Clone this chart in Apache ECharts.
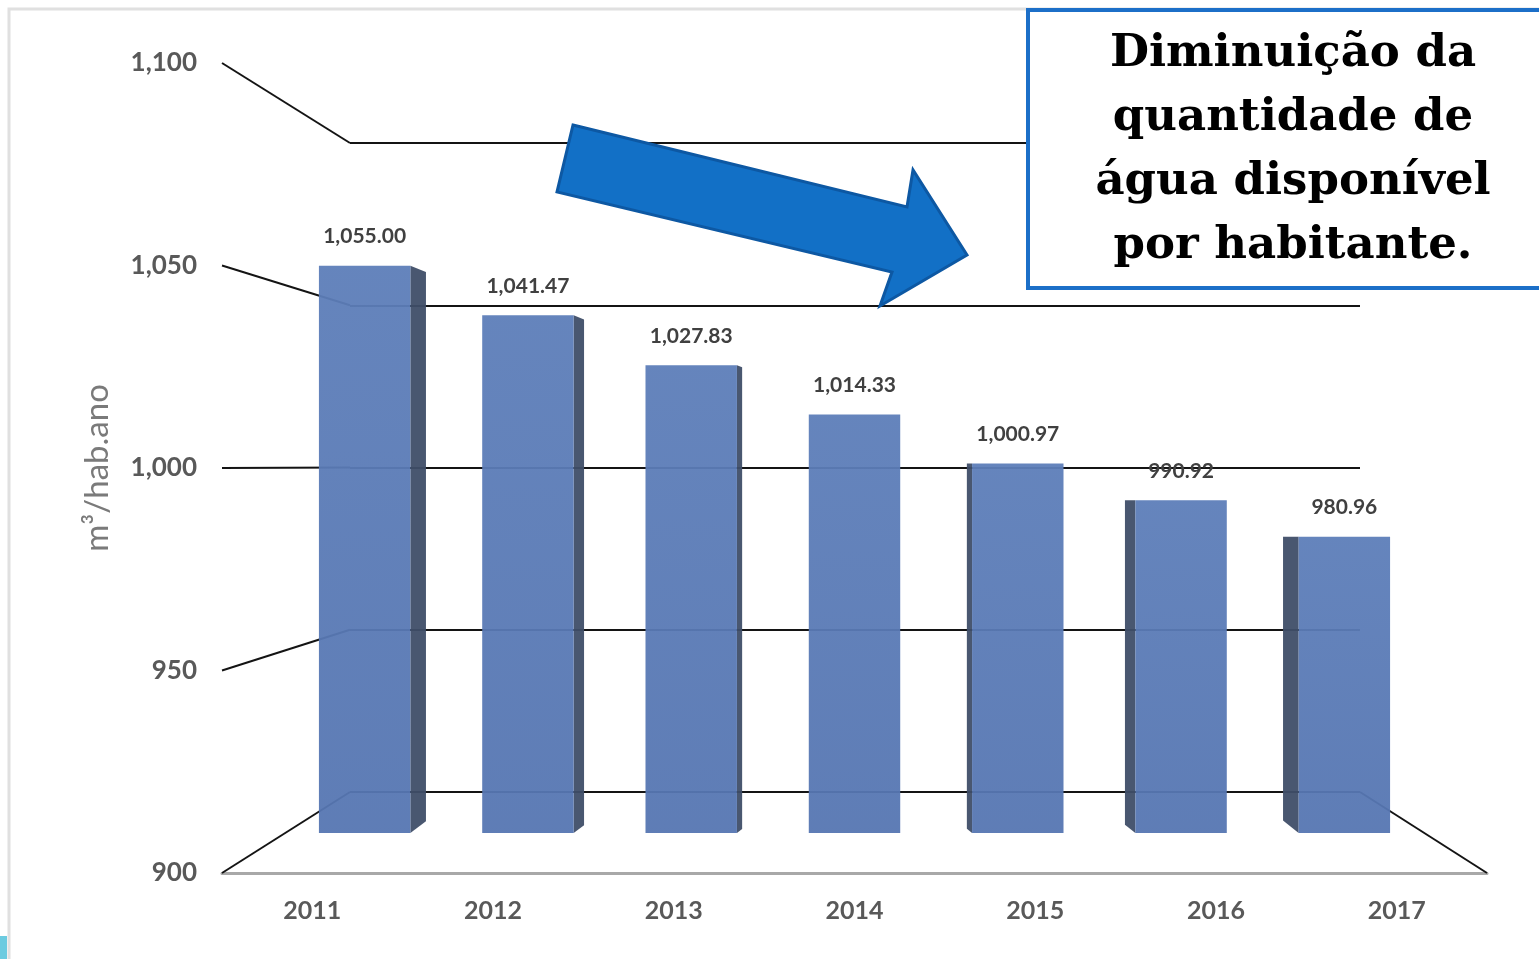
<!DOCTYPE html>
<html>
<head>
<meta charset="utf-8">
<script src="https://cdn.jsdelivr.net/npm/echarts@6/dist/echarts.min.js"></script>
<style>
  html, body { margin: 0; padding: 0; background: #fff; }
  #chart { width: 1539px; height: 959px; }
</style>
</head>
<body>
<div id="chart"></div>
<script>
// dados
const years = ['2011', '2012', '2013', '2014', '2015', '2016', '2017'];
const waterPerCapita = [1055.00, 1041.47, 1027.83, 1014.33, 1000.97, 990.92, 980.96];
const yTicks = [900, 950, 1000, 1050, 1100];
const yName = 'm³/hab.ano';
const note = 'Diminuição da\nquantidade de\nágua disponível\npor habitante.';

// planos da "perspectiva": frente, meio (barras) e fundo
const FRONT = { left: 222, right: 52, top: 63, bottom: 86 };
const MID = { left: 283, right: 113, top: 101, bottom: 126 };
const BACK = { left: 350, right: 179, top: 143, bottom: 167 };
const W = 1539;

const fmtTick = (v) => v.toLocaleString('en-US');
const fmtVal = (v) => v.toLocaleString('en-US', { minimumFractionDigits: 2, maximumFractionDigits: 2 });

const chart = echarts.init(document.getElementById('chart'));

const hidden = { show: false };

chart.setOption({
  animation: false,
  backgroundColor: '#fff',
  grid: [
    Object.assign({}, FRONT),
    Object.assign({}, MID),
    Object.assign({}, BACK),
  ],
  xAxis: [
    {
      gridIndex: 0,
      type: 'category',
      data: years,
      axisLine: { lineStyle: { color: '#a8a8a8', width: 3 } },
      axisTick: hidden,
      axisLabel: {
        margin: 25,
        color: '#595959',
        fontSize: 25,
        fontWeight: 'bold',
        fontFamily: 'Lato',
      },
    },
    { gridIndex: 1, type: 'category', data: years, show: false },
    { gridIndex: 2, type: 'category', data: years, show: false },
  ],
  yAxis: [
    {
      gridIndex: 0,
      type: 'value',
      min: 900,
      max: 1100,
      interval: 50,
      axisLine: hidden,
      axisTick: hidden,
      splitLine: hidden,
      axisLabel: {
        margin: 25,
        formatter: fmtTick,
        color: '#595959',
        fontSize: 26,
        fontWeight: 'bold',
        fontFamily: 'Lato',
      },
      name: yName,
      nameLocation: 'middle',
      nameRotate: 90,
      nameGap: 108,
      nameTextStyle: { color: '#7a7a7a', fontSize: 33, fontFamily: 'Lato' },
    },
    { gridIndex: 1, type: 'value', min: 900, max: 1100, show: false },
    {
      gridIndex: 2,
      type: 'value',
      min: 900,
      max: 1100,
      interval: 50,
      axisLine: hidden,
      axisTick: hidden,
      axisLabel: hidden,
      splitLine: { show: true, lineStyle: { color: '#141414', width: 2 } },
    },
  ],
  series: [
    {
      type: 'custom',
      xAxisIndex: 1,
      yAxisIndex: 1,
      data: waterPerCapita.map((v, i) => [i, v]),
      z: 5,
      renderItem: (params, api) => {
        const idx = api.value(0);
        const val = api.value(1);
        const top = api.coord([idx, val]);
        const base = api.coord([idx, 900]);
        const bw = api.size([1, 0])[0] * 0.56;
        const L = top[0] - bw / 2;
        const R = top[0] + bw / 2;
        const s = (3 - idx) * 5.2;
        const children = [];
        if (s > 0) {
          children.push({
            type: 'polygon',
            shape: { points: [[R, top[1]], [R + s, top[1] + s * 0.4], [R + s, base[1] - s * 0.75], [R, base[1]]] },
            style: { fill: '#3f4e68', opacity: 0.95 },
          });
        } else if (s < 0) {
          children.push({
            type: 'polygon',
            shape: { points: [[L, top[1]], [L + s, top[1]], [L + s, base[1] + s * 0.8], [L, base[1]]] },
            style: { fill: '#3f4e68', opacity: 0.95 },
          });
        }
        children.push({
          type: 'rect',
          shape: { x: L, y: top[1], width: bw, height: base[1] - top[1] },
          style: {
            fill: new echarts.graphic.LinearGradient(0, 0, 0, 1, [
              { offset: 0, color: '#5d7eb9' },
              { offset: 1, color: '#5676b2' },
            ]),
            opacity: 0.95,
          },
        });
        children.push({
          type: 'text',
          style: {
            text: fmtVal(val),
            x: top[0],
            y: top[1] - 29,
            align: 'center',
            verticalAlign: 'middle',
            fill: '#404040',
            fontSize: 21,
            fontWeight: 'bold',
            fontFamily: 'Lato',
          },
        });
        return { type: 'group', children };
      },
    },
  ],
});

// linhas de perspectiva entre o plano da frente e o do fundo
const fy = (v) => chart.convertToPixel({ yAxisIndex: 0 }, v);
const by = (v) => chart.convertToPixel({ yAxisIndex: 2 }, v);
const lineStyle = { stroke: '#141414', lineWidth: 2 };

const graphics = yTicks.map((v) => ({
  type: 'line',
  z: 1,
  shape: { x1: FRONT.left, y1: fy(v), x2: BACK.left, y2: by(v) },
  style: lineStyle,
}));
graphics.push({
  type: 'line',
  z: 1,
  shape: { x1: W - BACK.right, y1: by(900), x2: W - FRONT.right, y2: fy(900) },
  style: lineStyle,
});

// moldura clara da página
graphics.push({
  type: 'rect',
  z: 0,
  shape: { x: 9, y: 9, width: 1600, height: 1000 },
  style: { fill: 'none', stroke: '#e0e0e0', lineWidth: 3 },
});
graphics.push({
  type: 'rect',
  z: 0,
  shape: { x: 0, y: 936, width: 7, height: 23 },
  style: { fill: '#6ccbe0' },
});

// seta azul
graphics.push({
  type: 'polygon',
  z: 50,
  shape: {
    points: [[573, 125], [907, 207], [913, 170], [967, 255], [880, 306], [892, 272], [557, 192]],
  },
  style: { fill: '#1270c6', stroke: '#0d58a3', lineWidth: 3 },
});

// caixa de texto
graphics.push({
  type: 'rect',
  z: 60,
  shape: { x: 1028, y: 10, width: 560, height: 278 },
  style: { fill: '#fff', stroke: '#1c6fc8', lineWidth: 4 },
});
graphics.push({
  type: 'text',
  z: 61,
  style: {
    text: note,
    x: 1293,
    y: 150,
    align: 'center',
    verticalAlign: 'middle',
    fontFamily: 'DejaVu Serif',
    fontWeight: 'bold',
    fontSize: 45,
    lineHeight: 64,
    fill: '#000',
  },
});

chart.setOption({ graphic: graphics });

window.addEventListener('resize', () => chart.resize());
</script>
</body>
</html>
